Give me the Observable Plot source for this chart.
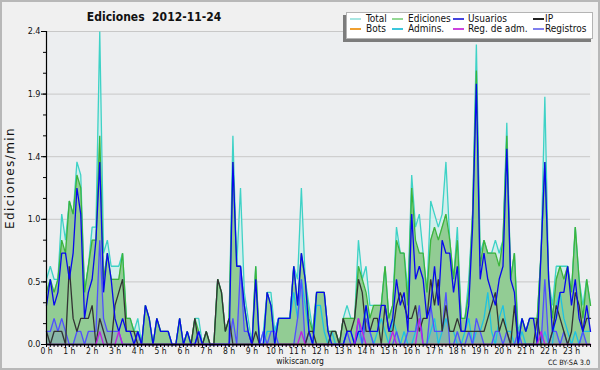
<!DOCTYPE html>
<html><head><meta charset="utf-8">
<script src="https://cdn.jsdelivr.net/npm/d3@7"></script>
<script src="https://cdn.jsdelivr.net/npm/@observablehq/plot@0.6"></script>
<style>
html,body{margin:0;padding:0;background:#f0f0f0;}
#wrap{position:relative;width:600px;height:370px;overflow:hidden;font-family:"DejaVu Sans Condensed","DejaVu Sans",sans-serif;color:#111;}
#wrap svg{position:absolute;left:0;top:0;}
.abs{position:absolute;white-space:nowrap;}
#border{position:absolute;left:0;top:0;width:600px;height:370px;box-sizing:border-box;border:2px solid #b8b8b8;pointer-events:none;}
</style></head><body><div id="wrap"></div>
<script>
const total = [
 0.5,0.6,0.5,0.5,1.0,0.8, 1.1,1.0,1.4,1.3,0.4,0.6, 0.9,0.9,2.4,0.7,0.8,0.6, 0.6,0.6,0.7,0.2,0.2,0.1,
 0.2,0.0,0.3,0.2,0.0,0.2, 0.1,0.1,0.1,0.0,0.0,0.2, 0.0,0.1,0.0,0.2,0.2,0.0, 0.1,0.0,0.0,0.5,0.4,0.1,
 0.2,1.6,0.6,1.2,0.4,0.2, 0.0,0.6,0.0,0.1,0.4,0.4, 0.1,0.2,0.2,0.2,0.2,0.6, 0.5,1.2,0.5,0.3,0.1,0.4,
 0.4,0.4,0.1,0.1,0.1,0.0, 0.2,0.3,0.2,0.2,0.8,0.5, 0.6,0.3,0.3,0.3,0.3,0.6, 0.2,0.3,0.9,0.7,0.7,0.4,
 1.3,0.9,1.0,0.7,0.4,1.1, 1.0,0.9,1.0,1.4,0.8,0.5, 0.9,0.2,0.2,0.5,1.0,2.3, 0.7,0.8,0.7,0.7,0.8,0.7,
 0.8,1.7,0.5,0.7,0.1,0.2, 0.1,0.2,0.2,0.2,0.7,1.9, 0.5,0.3,0.6,0.6,0.6,0.6, 0.4,0.9,0.5,0.3,0.5,0.3];
const ediciones = [
 0.4,0.5,0.4,0.5,0.8,0.7, 1.1,1.0,1.3,1.2,0.4,0.6, 0.8,0.8,1.6,0.5,0.7,0.5, 0.5,0.5,0.7,0.2,0.2,0.1,
 0.1,0.0,0.3,0.2,0.0,0.2, 0.1,0.1,0.1,0.0,0.0,0.2, 0.0,0.1,0.0,0.2,0.1,0.0, 0.1,0.0,0.0,0.5,0.4,0.1,
 0.2,1.4,0.6,0.6,0.3,0.1, 0.0,0.6,0.0,0.0,0.4,0.3, 0.0,0.2,0.2,0.2,0.2,0.6, 0.3,0.7,0.5,0.2,0.1,0.4,
 0.4,0.4,0.1,0.1,0.1,0.0, 0.2,0.2,0.2,0.2,0.6,0.5, 0.4,0.2,0.3,0.3,0.3,0.6, 0.2,0.3,0.8,0.7,0.7,0.3,
 1.2,0.8,0.7,0.7,0.4,0.8, 0.9,0.8,0.9,1.0,0.8,0.5, 0.8,0.2,0.2,0.4,1.0,2.1, 0.6,0.8,0.7,0.7,0.7,0.6,
 0.8,1.6,0.5,0.7,0.0,0.2, 0.1,0.2,0.2,0.2,0.7,1.4, 0.5,0.2,0.5,0.6,0.5,0.6, 0.4,0.9,0.5,0.2,0.5,0.3];
const usuarios = [
 0.3,0.5,0.3,0.4,0.7,0.7, 0.5,0.7,1.2,1.0,0.2,0.4, 0.5,0.8,1.4,0.4,0.7,0.5, 0.2,0.1,0.2,0.1,0.1,0.0,
 0.1,0.0,0.3,0.2,0.0,0.2, 0.1,0.1,0.1,0.0,0.0,0.2, 0.0,0.1,0.0,0.0,0.1,0.0, 0.0,0.0,0.0,0.0,0.0,0.0,
 0.0,1.4,0.6,0.6,0.3,0.1, 0.0,0.5,0.0,0.0,0.4,0.3, 0.0,0.2,0.2,0.2,0.2,0.6, 0.3,0.7,0.5,0.1,0.0,0.4,
 0.4,0.4,0.1,0.0,0.0,0.0, 0.0,0.1,0.1,0.0,0.1,0.1, 0.3,0.1,0.1,0.1,0.3,0.3, 0.1,0.2,0.5,0.3,0.4,0.1,
 1.0,0.5,0.6,0.5,0.2,0.3, 0.6,0.3,0.8,0.7,0.7,0.4, 0.6,0.1,0.1,0.3,0.9,2.0, 0.5,0.7,0.5,0.4,0.3,0.5,
 0.6,1.5,0.5,0.4,0.0,0.2, 0.1,0.2,0.2,0.0,0.7,1.4, 0.5,0.1,0.2,0.4,0.4,0.6, 0.3,0.5,0.2,0.1,0.3,0.1];
const ip = [
 0.1,0.0,0.1,0.1,0.1,0.0, 0.6,0.2,0.1,0.2,0.2,0.2, 0.3,0.0,0.2,0.1,0.0,0.0, 0.3,0.4,0.5,0.1,0.1,0.1,
 0.0,0.0,0.0,0.0,0.0,0.0, 0.0,0.0,0.0,0.0,0.0,0.0, 0.0,0.0,0.0,0.2,0.0,0.0, 0.1,0.0,0.0,0.5,0.4,0.1,
 0.2,0.0,0.0,0.0,0.0,0.0, 0.0,0.1,0.0,0.0,0.0,0.0, 0.0,0.0,0.0,0.0,0.0,0.0, 0.0,0.0,0.0,0.1,0.1,0.0,
 0.0,0.0,0.0,0.1,0.1,0.0, 0.2,0.1,0.1,0.2,0.5,0.4, 0.1,0.1,0.2,0.2,0.0,0.3, 0.1,0.1,0.3,0.4,0.3,0.2,
 0.2,0.3,0.1,0.2,0.2,0.5, 0.3,0.5,0.1,0.3,0.1,0.1, 0.2,0.1,0.1,0.1,0.1,0.1, 0.1,0.1,0.2,0.3,0.4,0.1,
 0.2,0.1,0.0,0.3,0.0,0.0, 0.0,0.0,0.0,0.2,0.0,0.0, 0.0,0.1,0.3,0.2,0.1,0.0, 0.1,0.4,0.3,0.1,0.2,0.2];
const bots = new Array(144).fill(0);
const admins = [
 0,0,0,0,0,0, 0,0,0,0,0,0, 0,0,0,0,0,0, 0,0,0,0,0,0,
 0,0,0,0,0,0, 0,0,0,0,0,0, 0,0,0,0,0.1,0, 0,0,0,0,0,0,
 0,0,0,0,0,0, 0,0,0,0,0.1,0.1, 0.1,0.2,0.2,0.2,0.2,0.4, 0.2,0.5,0.3,0.1,0,0.3,
 0.3,0.1,0,0.1,0,0, 0,0.1,0.1,0,0.1,0, 0.3,0.1,0,0.1,0.2,0.1, 0,0.2,0.1,0,0.1,0,
 0,0.1,0.2,0,0,0.1, 0.2,0,0.1,0.2,0.1,0.1, 0,0,0.1,0.2,0,0.1, 0.1,0.2,0.4,0.1,0,0.2,
 0.3,0.1,0.1,0,0,0.1, 0,0,0,0,0,0.1, 0,0,0.3,0.4,0.2,0.1, 0,0.1,0,0.1,0.1,0.1];
const regAdm = [
 0,0,0,0,0,0, 0,0,0,0,0,0, 0,0,0.1,0,0,0, 0,0.1,0,0,0,0,
 0,0,0,0,0,0, 0,0,0,0,0,0, 0,0,0,0,0,0, 0,0,0,0,0,0,
 0,0,0,0,0,0, 0,0,0,0,0,0, 0,0,0,0,0,0, 0,0.1,0,0,0,0,
 0,0,0,0,0,0, 0,0,0,0,0.2,0.1, 0,0,0,0,0,0, 0,0.1,0,0,0,0,
 0,0,0.2,0,0,0, 0,0,0,0,0,0, 0,0,0,0,0,0, 0,0,0,0,0,0,
 0,0,0,0,0,0, 0,0,0,0,0.1,0, 0,0,0,0,0,0, 0,0,0,0,0,0];
const registros = [
 0.1,0.1,0.2,0.1,0.2,0.1, 0.0,0.0,0.1,0.1,0.0,0.1, 0.1,0.1,0.8,0.2,0.1,0.1, 0.1,0.1,0.0,0.0,0.0,0.0,
 0.1,0.0,0.0,0.0,0.0,0.0, 0.0,0.0,0.0,0.0,0.0,0.0, 0.0,0.0,0.0,0.0,0.1,0.0, 0.0,0.0,0.0,0.0,0.0,0.0,
 0.0,0.2,0.0,0.6,0.1,0.1, 0.0,0.0,0.0,0.1,0.0,0.1, 0.1,0.0,0.0,0.0,0.0,0.0, 0.2,0.5,0.0,0.1,0.0,0.0,
 0.0,0.0,0.0,0.0,0.0,0.0, 0.0,0.1,0.0,0.0,0.2,0.0, 0.2,0.1,0.0,0.0,0.0,0.0, 0.0,0.0,0.1,0.0,0.0,0.1,
 0.1,0.1,0.3,0.0,0.0,0.3, 0.1,0.1,0.1,0.4,0.0,0.0, 0.1,0.0,0.0,0.1,0.0,0.2, 0.1,0.0,0.0,0.0,0.1,0.1,
 0.0,0.1,0.0,0.0,0.1,0.0, 0.0,0.0,0.0,0.0,0.0,0.5, 0.0,0.1,0.1,0.0,0.1,0.0, 0.0,0.0,0.0,0.1,0.0,0.0];

const hourLabels = ["0 h","1 h","2 h","3 h","4 h","5 h","6 h","7 h","8 h","9 h","10 h","11 h",
  "12 h","13 h","14 h","15 h","16 h","17 h","18 h","19 h","20 h","21 h","22 h","23 h"];
const yTickValues = [0, 0.48, 0.96, 1.44, 1.92, 2.4];
const yTickLabels = ["0.0","0.5","1.0","1.4","1.9","2.4"];
const legendNames = ["Total","Ediciones","Usuarios","IP","Bots","Admins.","Reg. de adm.","Registros"];
const legendColors = ["#a8e6e2","#94d894","#4444dd","#222222","#f0a030","#3cc6dc","#cc44dd","#8080ee"];

const N = total.length;
const data = d3.range(N).map(i => ({i, total: total[i], ediciones: ediciones[i], usuarios: usuarios[i],
  ip: ip[i], bots: bots[i], admins: admins[i], regAdm: regAdm[i], registros: registros[i]}));
const yMinor = d3.range(0, 16).map(k => k * 0.16);

const ln = (y, stroke, w = 1.3) => Plot.lineY(data, {x: "i", y, stroke, strokeWidth: w, strokeLinejoin: "miter"});

const chart = Plot.plot({
  width: 600, height: 370,
  marginTop: 31, marginBottom: 26, marginLeft: 46, marginRight: 10,
  style: {background: "transparent", fontFamily: '"DejaVu Sans Condensed","DejaVu Sans",sans-serif', color: "#111"},
  x: {domain: [0, N - 1], axis: null},
  y: {domain: [0, 2.4], axis: null},
  marks: [
    Plot.frame({fill: "#eceef0", stroke: null}),
    Plot.ruleY(yTickValues.slice(1), {stroke: "#c8c8c8", strokeWidth: 1}),
    Plot.areaY(data, {x: "i", y: "total", fill: "#d2eeec"}),
    Plot.areaY(data, {x: "i", y: "ediciones", fill: "#8cc98c", fillOpacity: 0.92}),
    Plot.areaY(data, {x: "i", y: "registros", fill: "#6a6aff", fillOpacity: 0.2}),
    ln("total", "#3ed2c6"),
    ln("ediciones", "#3cb43c"),
    ln("bots", "#f0a030"),
    ln("admins", "#1ec2e2"),
    ln("registros", "#5050ff"),
    ln("ip", "#333333"),
    ln("usuarios", "#0808ee"),
    ln("regAdm", "#c020e0"),
    Plot.ruleX([0], {stroke: "#000", strokeWidth: 1.2}),
    Plot.ruleY([0], {stroke: "#000", strokeWidth: 1.5}),
    Plot.axisY({ticks: yMinor, tickSize: 3, tickFormat: () => "", stroke: "#000", label: null}),
    Plot.axisY({ticks: yTickValues, tickSize: 5, tickPadding: 1, fontSize: 9, label: null,
      tickFormat: d => yTickLabels[yTickValues.indexOf(d)], stroke: "#000"}),
    Plot.axisX({ticks: d3.range(0, N), tickSize: 3, tickFormat: () => "", stroke: "#000", label: null}),
    Plot.axisX({ticks: d3.range(0, N, 6), tickSize: 3, tickPadding: 0, fontSize: 8.5, label: null,
      tickFormat: d => hourLabels[d / 6], stroke: "#000"})
  ]
});

const wrap = document.getElementById("wrap");
wrap.appendChild(chart);

function addDiv(html, style) {
  const d = document.createElement("div");
  d.className = "abs";
  d.innerHTML = html;
  Object.assign(d.style, style);
  wrap.appendChild(d);
  return d;
}
// title
addDiv("Ediciones&nbsp;&nbsp;2012-11-24", {left: "154px", top: "10px", transform: "translateX(-50%)",
  fontWeight: "bold", fontSize: "12px", lineHeight: "14px"});
// y label
addDiv("Ediciones/min", {left: "10px", top: "178px", transform: "translate(-50%,-50%) rotate(-90deg)",
  fontFamily: '"DejaVu Sans",sans-serif', fontSize: "12px", lineHeight: "13px", letterSpacing: "1.4px"});
// footer
addDiv("wikiscan.org", {left: "300px", top: "356px", transform: "translateX(-50%)", fontSize: "8.5px", lineHeight: "11px"});
addDiv("CC BY-SA 3.0", {left: "548px", top: "358px", fontSize: "7.3px", lineHeight: "9px"});
// legend
addDiv("", {left: "343px", top: "15px", width: "248px", height: "27px", background: "#7c7c7c"});
addDiv("", {left: "346px", top: "12px", width: "245px", height: "25px", background: "#ffffff", border: "1px solid #b4b4b4"});
const colSw = [350, 392, 453, 533];
const colTx = [366, 408, 468, 545];
const rowY = [19, 29];
legendNames.forEach((name, k) => {
  const c = k % 4, r = Math.floor(k / 4);
  addDiv("", {left: colSw[c] + "px", top: (rowY[r] - 0.75) + "px", width: "11px", height: "1.5px", background: legendColors[k]});
  addDiv(name, {left: colTx[c] + "px", top: (rowY[r] - 6) + "px", fontSize: "10px", lineHeight: "12px", color: "#111"});
});
const b = document.createElement("div"); b.id = "border"; wrap.appendChild(b);
</script></body></html>
